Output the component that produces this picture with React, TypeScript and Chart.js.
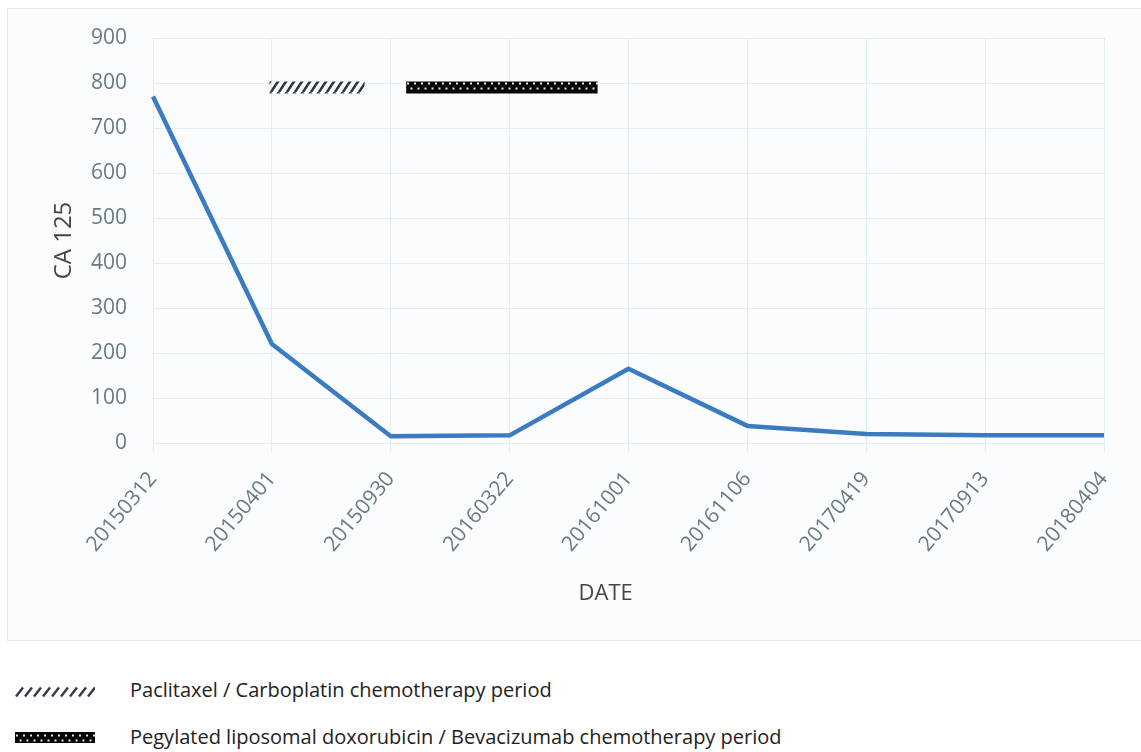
import React, { useEffect, useRef } from 'react';
import { Chart, registerables } from 'chart.js';

Chart.register(...registerables);

// ---- data ----
const dates = ['20150312', '20150401', '20150930', '20160322', '20161001', '20161106', '20170419', '20170913', '20180404'];
const ca125 = [770, 220, 15, 17, 165, 38, 20, 17, 17];
const yMin = 0;
const yMax = 900;
const yStep = 100;
// chemotherapy periods, expressed in date-index units on the x axis
const paclitaxelPeriod = [0.98, 1.78];
const doxorubicinPeriod = [2.13, 3.74];
const periodLevel = [790, 790];
const legendLabels = [
  'Paclitaxel / Carboplatin chemotherapy period',
  'Pegylated liposomal doxorubicin / Bevacizumab chemotherapy period',
];
const xTitle = 'DATE';
const yTitle = 'CA 125';

const FONT = '"Open Sans", "Noto Sans", sans-serif';
const TICK_COLOR = '#687a80';
const TITLE_COLOR = '#454545';
const GRID_COLOR = '#e3edf4';

function makeHatch(ctx: CanvasRenderingContext2D, color: string, w: number, h: number, lw: number) {
  const c = document.createElement('canvas');
  c.width = w;
  c.height = h;
  const g = c.getContext('2d')!;
  g.strokeStyle = color;
  g.lineWidth = lw;
  for (const dx of [-w, 0, w]) {
    g.beginPath();
    g.moveTo(dx, h);
    g.lineTo(dx + w, 0);
    g.stroke();
  }
  return ctx.createPattern(c, 'repeat')!;
}

function makeDots(ctx: CanvasRenderingContext2D) {
  const c = document.createElement('canvas');
  c.width = 7;
  c.height = 12;
  const g = c.getContext('2d')!;
  g.fillStyle = '#050505';
  g.fillRect(0, 0, 7, 12);
  g.fillStyle = '#ece4e0';
  g.fillRect(1, 2.5, 2, 2);
  g.fillRect(4.5, 7.5, 2, 2);
  return ctx.createPattern(c, 'repeat')!;
}

export default function App() {
  const canvasRef = useRef<HTMLCanvasElement | null>(null);
  const sw1Ref = useRef<HTMLCanvasElement | null>(null);
  const sw2Ref = useRef<HTMLCanvasElement | null>(null);

  useEffect(() => {
    document.body.style.overflow = 'hidden';
    const canvas = canvasRef.current!;
    const ctx = canvas.getContext('2d')!;
    const hatch = makeHatch(ctx, '#2a3940', 8, 12, 2.6);
    const dots = makeDots(ctx);

    const chart = new Chart(canvas, {
      type: 'line',
      data: {
        labels: dates,
        datasets: [
          {
            label: yTitle,
            data: ca125,
            borderColor: '#3b7bc2',
            backgroundColor: '#3b7bc2',
            borderWidth: 4.5,
            pointRadius: 0,
            tension: 0,
            borderJoinStyle: 'round',
            xAxisID: 'x',
            yAxisID: 'y',
          },
          {
            label: legendLabels[0],
            data: paclitaxelPeriod.map((x, i) => ({ x, y: periodLevel[i] })),
            borderColor: hatch as any,
            borderWidth: 12,
            borderCapStyle: 'butt',
            pointRadius: 0,
            xAxisID: 'xp',
            yAxisID: 'y',
          },
          {
            label: legendLabels[1],
            data: doxorubicinPeriod.map((x, i) => ({ x, y: periodLevel[i] })),
            borderColor: dots as any,
            borderWidth: 12,
            borderCapStyle: 'butt',
            pointRadius: 0,
            xAxisID: 'xp',
            yAxisID: 'y',
          },
        ],
      },
      options: {
        animation: false,
        responsive: false,
        layout: { padding: { left: 0, right: 37, top: 30, bottom: 0 } },
        plugins: { legend: { display: false }, tooltip: { enabled: false } },
        scales: {
          x: {
            type: 'category',
            offset: false,
            grid: { color: GRID_COLOR, tickLength: 9, drawTicks: true },
            border: { display: false },
            ticks: {
              autoSkip: false,
              minRotation: 50,
              maxRotation: 50,
              padding: 15,
              color: TICK_COLOR,
              font: { family: FONT, size: 21 },
            },
            title: {
              display: true,
              text: xTitle + '\u00a0'.repeat(8),
              color: TITLE_COLOR,
              font: { family: FONT, size: 22 },
              padding: { top: 0, bottom: 33 },
            },
            afterFit: (s: any) => {
              s.height = 197;
            },
          },
          xp: {
            type: 'linear',
            display: false,
            min: 0,
            max: dates.length - 1,
          },
          y: {
            min: yMin,
            max: yMax,
            grid: { color: GRID_COLOR, drawTicks: true, tickLength: 23, tickColor: 'rgba(0,0,0,0)' },
            border: { display: false },
            ticks: {
              stepSize: yStep,
              padding: 3,
              color: TICK_COLOR,
              font: { family: FONT, size: 21 },
            },
            title: {
              display: true,
              text: yTitle,
              color: TITLE_COLOR,
              font: { family: FONT, size: 24 },
              padding: { top: 43, bottom: 0 },
            },
            afterFit: (s: any) => {
              s.width = 146;
            },
          },
        },
      },
    } as any);

    // legend swatches
    const s1 = sw1Ref.current!.getContext('2d')!;
    s1.clearRect(0, 0, 80, 12);
    s1.strokeStyle = '#2e3c44';
    s1.lineWidth = 2.4;
    for (let x = 1; x < 78; x += 9) {
      s1.beginPath();
      s1.moveTo(x, 10.5);
      s1.lineTo(x + 7, 1.5);
      s1.stroke();
    }
    const s2 = sw2Ref.current!.getContext('2d')!;
    s2.fillStyle = makeDots(s2);
    s2.fillRect(0, 0, 80, 12);

    return () => chart.destroy();
  }, []);

  return (
    <div style={{ position: 'absolute', left: 0, top: 0, width: 1141, height: 752, overflow: 'hidden', background: '#ffffff' }}>
      <div
        style={{
          position: 'absolute',
          left: 7,
          top: 8,
          width: 1150,
          height: 633,
          boxSizing: 'border-box',
          border: '1px solid #e4eaee',
          background: '#fbfcfd',
        }}
      />
      <canvas ref={canvasRef} width={1134} height={632} style={{ position: 'absolute', left: 7, top: 8 }} />
      <div style={{ position: 'absolute', left: 0, top: 676, width: 1141, fontFamily: FONT, fontSize: 20, color: '#222' }}>
        <div style={{ position: 'relative', height: 28 }}>
          <canvas ref={sw1Ref} width={80} height={12} style={{ position: 'absolute', left: 15, top: 10 }} />
          <span style={{ position: 'absolute', left: 130, top: 0, whiteSpace: 'nowrap' }}>{legendLabels[0]}</span>
        </div>
        <div style={{ position: 'relative', height: 28, marginTop: 19 }}>
          <canvas ref={sw2Ref} width={80} height={11} style={{ position: 'absolute', left: 15, top: 9 }} />
          <span style={{ position: 'absolute', left: 130, top: 0, whiteSpace: 'nowrap' }}>{legendLabels[1]}</span>
        </div>
      </div>
    </div>
  );
}
